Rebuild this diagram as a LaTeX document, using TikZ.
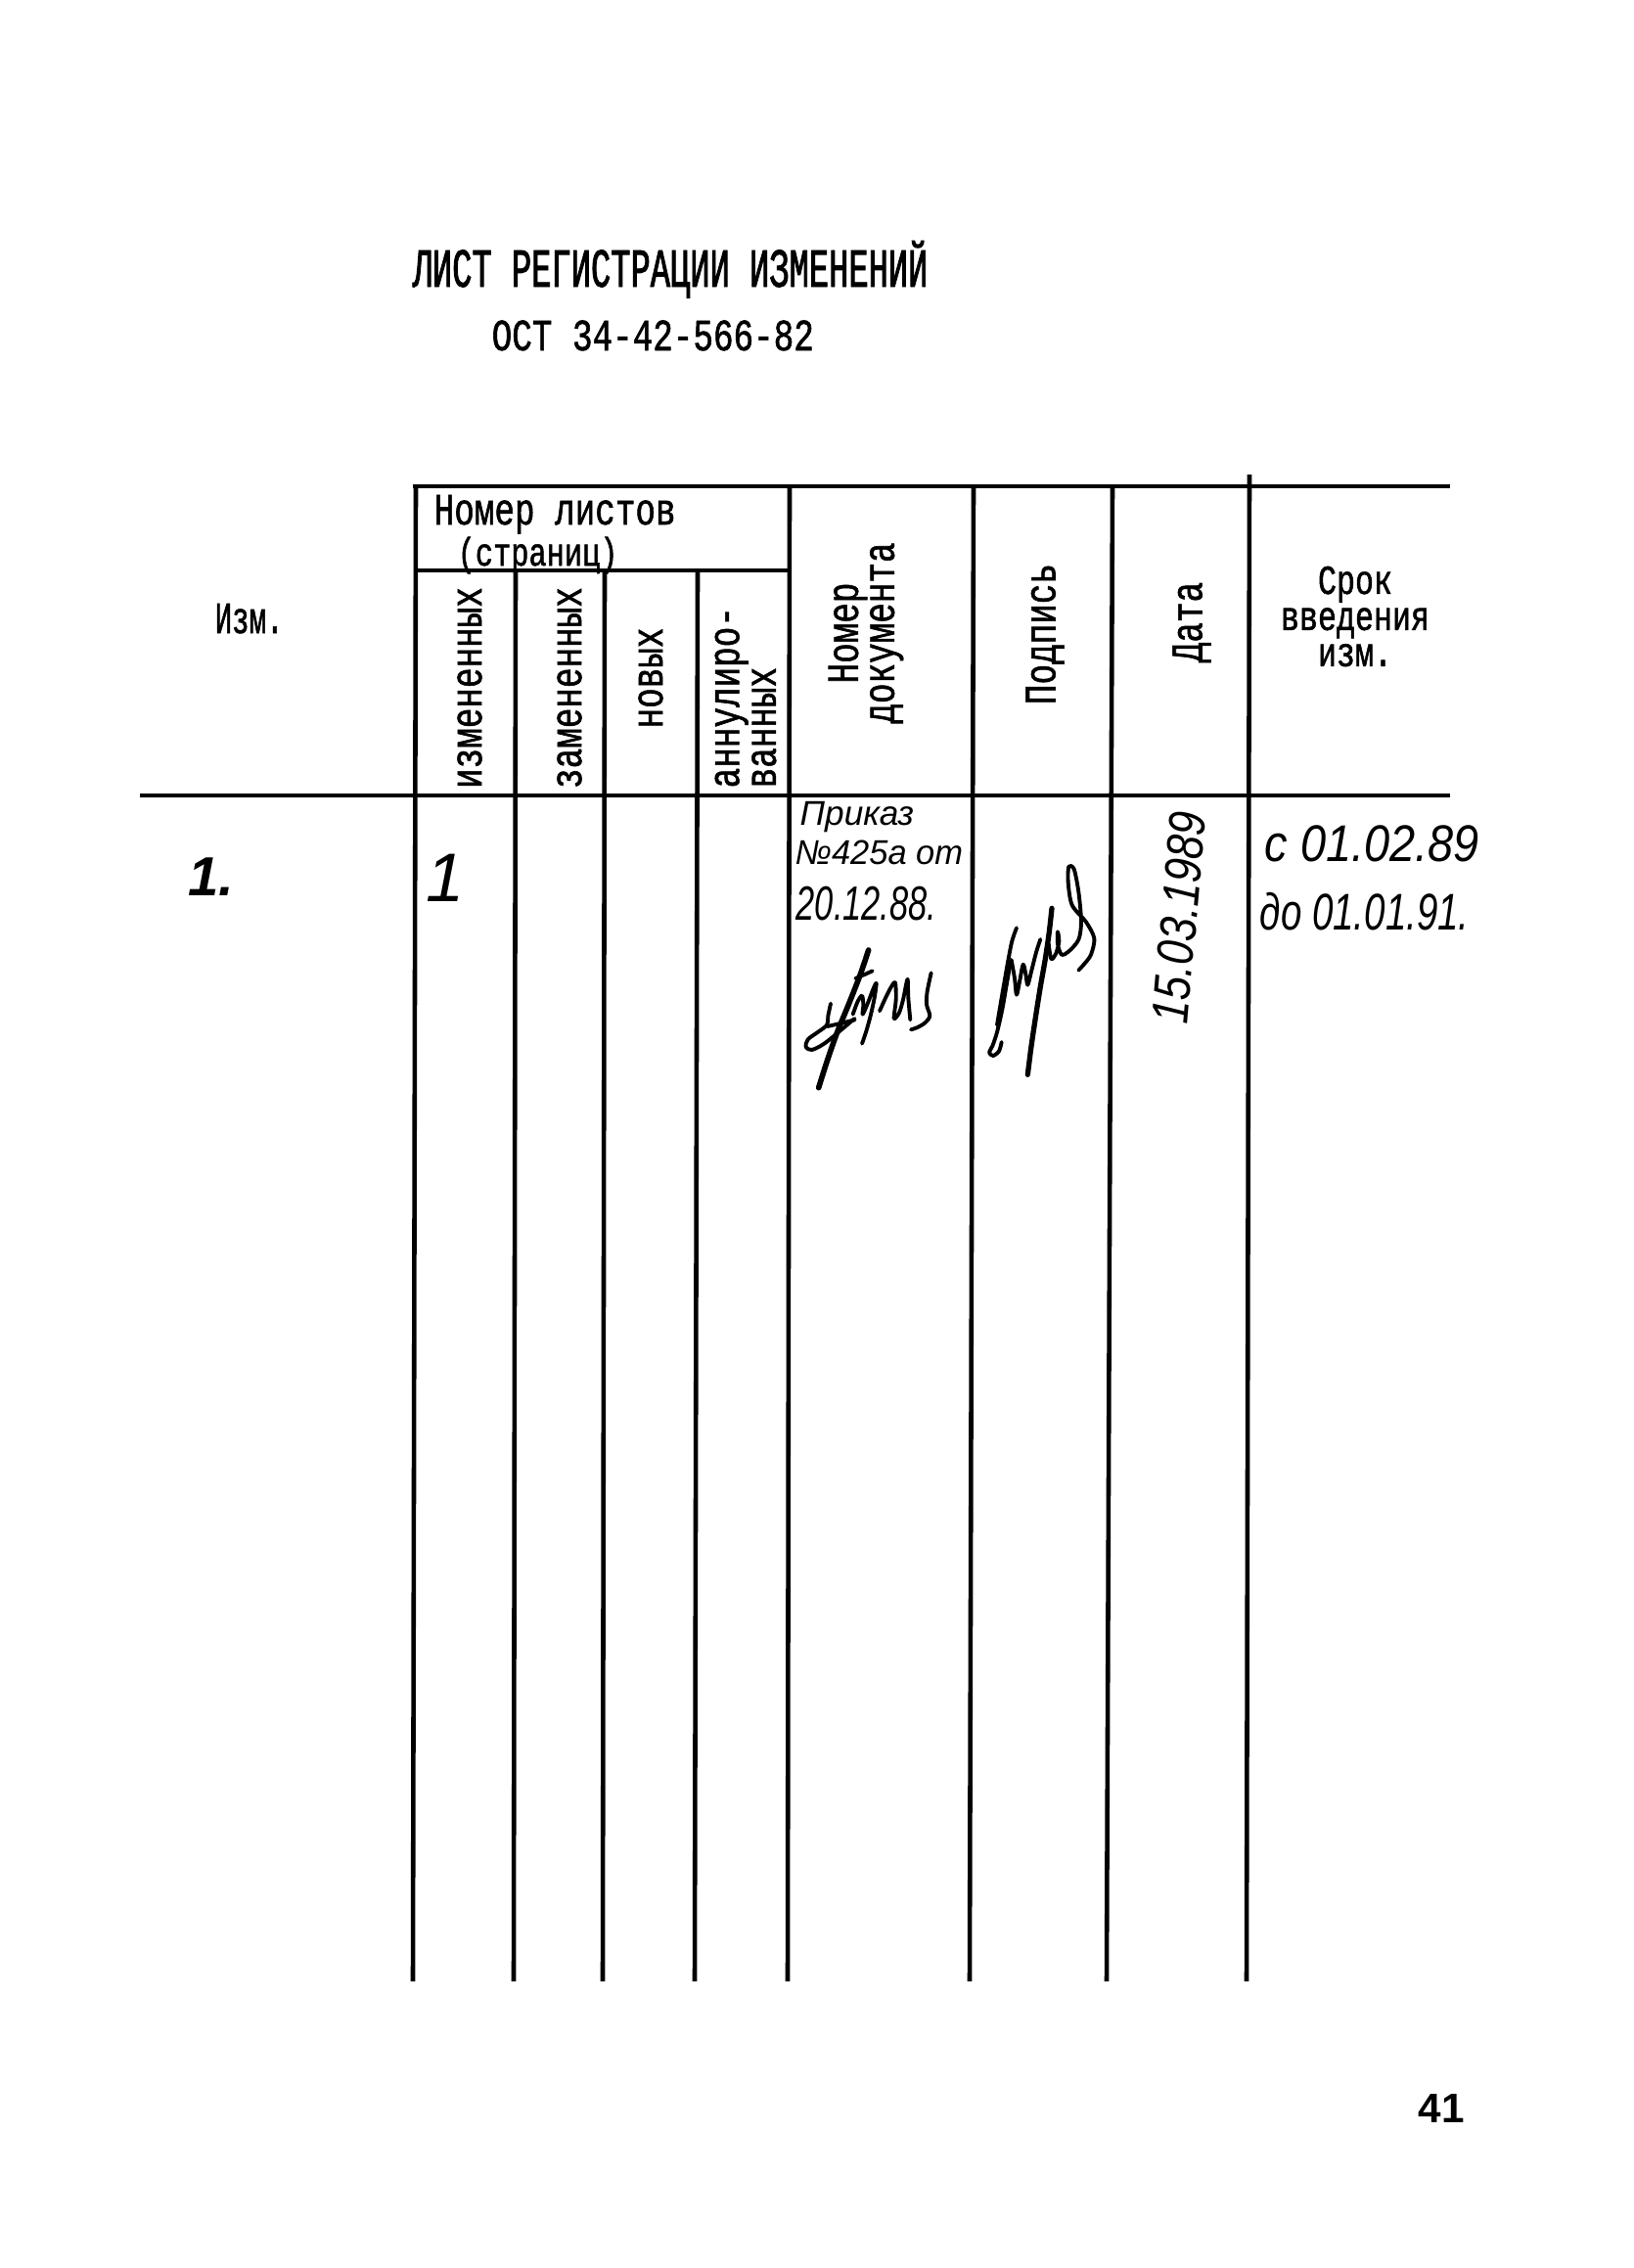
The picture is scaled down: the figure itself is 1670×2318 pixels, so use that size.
\documentclass[tikz,border=0pt]{standalone}
\usepackage{fontspec}
\usepackage{graphicx}
\newfontfamily\typefont{Liberation Mono}[FakeStretch=0.75, FakeBold=1.2]
\newfontfamily\titlefont{Liberation Mono}[FakeStretch=0.6, FakeBold=1.5]
\newfontfamily\handfont{Liberation Sans}
\newcommand{\squeeze}[2]{\scalebox{#1}[1]{#2}}
\tikzset{
  rule/.style={line width=1.3pt},
  typed/.style={inner sep=0pt, font=\typefont\fontsize{13}{10}\selectfont},
  upright/.style={typed, rotate=90},
  hand/.style={inner sep=0pt, font=\handfont\itshape\fontsize{15}{17}\selectfont},
  signpen/.style={line width=1.1pt, line cap=round, line join=round}
}

\begin{document}
\begin{tikzpicture}[x=0.01cm, y=-0.01cm]
   \useasboundingbox (0,0) rectangle (1670,2318);
   \node[typed, anchor=base west, font=\titlefont\fontsize{16}{18}\selectfont] (title) at (421,293) {ЛИСТ РЕГИСТРАЦИИ ИЗМЕНЕНИЙ};
   \node[typed, anchor=base west] (standard) at (502,358) {ОСТ 34-42-566-82};
   \draw[rule] (422,497) -- (1482,497);
   \draw[rule] (425,583) -- (807,583);
   \draw[rule] (143,813) -- (1482,813);
   \draw[rule] (425,497) -- (422,2025);
   \draw[rule] (527,583) -- (525,2025);
   \draw[rule] (618,583) -- (616,2025);
   \draw[rule] (713,583) -- (710,2025);
   \draw[rule] (807,497) -- (805,2025);
   \draw[rule] (995,497) -- (991,2025);
   \draw[rule] (1137,497) -- (1131,2025);
   \draw[rule] (1277,485) -- (1274,2025);
   \node[typed, anchor=base west] (izm) at (219,647) {\squeeze{0.85}{Изм.}};
   \node[typed, anchor=base west] (sheets) at (443,536) {Номер листов};
   \node[typed, anchor=base west, font=\typefont\fontsize{11.5}{10}\selectfont] (pages) at (467,578) {(страниц)};
   \node[upright] (changed) at (480,703) {измененных};
   \node[upright] (replaced) at (582,703) {замененных};
   \node[upright] (new) at (665,693) {новых};
   \node[upright, anchor=west, align=left, font=\typefont\fontsize{13}{8}\selectfont] (annulled) at (762,806) {аннулиро-\\ванных};
   \node[upright, align=center, font=\typefont\fontsize{13}{10.5}\selectfont] (docnum) at (885,647) {Номер\\документа};
   \node[upright] (signature) at (1068,648) {Подпись};
   \node[upright] (date) at (1218,636) {Дата};
   \node[typed, align=center, font=\typefont\fontsize{12}{10.5}\selectfont] (term) at (1385,630) {Срок\\введения\\изм.};
   \node[hand, font=\handfont\itshape\bfseries\fontsize{16}{18}\selectfont] (rowno) at (216,896) {1.};
   \node[hand, font=\handfont\itshape\fontsize{20}{22}\selectfont] (sheetno) at (455,897) {1};
   \node[hand, anchor=base west, font=\handfont\itshape\fontsize{10}{12}\selectfont] (order) at (817,843) {Приказ};
   \node[hand, anchor=base west, font=\handfont\itshape\fontsize{10}{12}\selectfont] (ordno) at (812,883) {\squeeze{0.98}{№425а от}};
   \node[hand, anchor=base west, font=\handfont\itshape\fontsize{14}{16}\selectfont] (orddate) at (813,940) {\squeeze{0.7}{20.12.88.}};
   \node[hand, rotate=85] (signdate) at (1205,938) {\squeeze{0.82}{15.03.1989}};
   \node[hand, anchor=base west] (from) at (1292,880) {\squeeze{0.89}{с 01.02.89}};
   \node[hand, anchor=base west] (until) at (1287,950) {\squeeze{0.73}{до 01.01.91.}};
   \begin{scope}[shift={(805,955)}, scale=1/3]
      \draw[signpen, line width=1.6pt] plot[smooth] coordinates {(248,48) (222,125) (188,212) (152,300) (122,385) (95,470)};
      \draw[signpen] plot[smooth] coordinates {(132,212) (124,250) (120,278) (92,300) (62,322) (56,345) (74,354) (112,335) (165,292) (205,258)};
      \draw[signpen] plot[smooth] coordinates {(122,282) (165,272) (206,262)};
      \draw[signpen] plot[smooth] coordinates {(208,135) (238,122) (260,112)};
      \draw[signpen] plot[smooth] coordinates {(200,245) (215,205) (228,188) (232,215) (230,245) (246,210) (262,168) (272,150) (266,195) (254,250) (240,300) (228,335)};
      \draw[signpen] plot[smooth] coordinates {(282,235) (300,195) (318,160) (330,148) (332,200) (326,258) (342,240) (354,200) (362,160) (368,138) (370,195) (376,262)};
      \draw[signpen] plot[smooth] coordinates {(440,118) (428,175) (426,215) (436,250) (420,272) (396,286) (378,292)};
   \end{scope}
   \begin{scope}[shift={(995,865)}, scale=1/3]
      \draw[signpen] plot[smooth] coordinates {(132,250) (118,290) (106,350) (92,430) (80,500) (72,548)};
      \draw[signpen] plot[smooth] coordinates {(114,352) (102,420) (88,500) (72,570) (58,612) (48,632) (60,642) (78,628) (86,600)};
      \draw[signpen] plot[smooth] coordinates {(116,348) (126,405) (132,455) (142,410) (152,362) (160,392) (166,425) (178,380) (192,325) (205,285)};
      \draw[signpen, line width=1.5pt] plot[smooth] coordinates {(240,190) (232,262) (220,345) (205,430) (190,525) (176,620) (166,700)};
      \draw[signpen] plot[smooth] coordinates {(230,298) (238,345) (252,330) (262,292) (258,262) (258,300) (270,332) (292,322) (322,286) (330,230) (322,140) (308,70) (292,62) (290,110) (302,180) (345,232) (370,282) (360,332) (340,360) (322,380)};
   \end{scope}
   \node[font=\handfont\bfseries\fontsize{12}{14}\selectfont] (pageno) at (1473,2155) {41};
\end{tikzpicture}
\end{document}
